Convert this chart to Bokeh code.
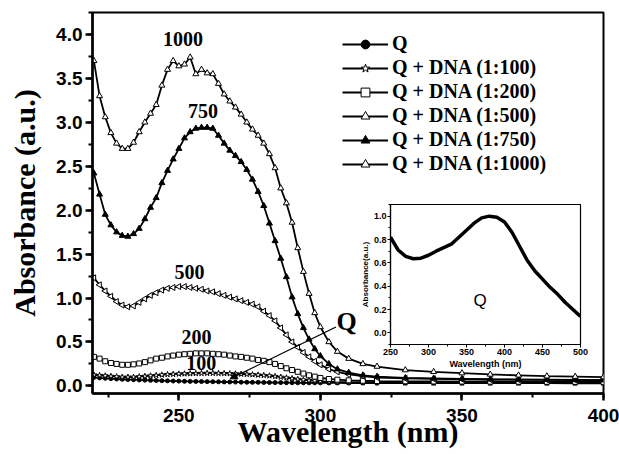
import numpy as np
from bokeh.plotting import figure
from bokeh.models import (Legend, LegendItem, Label, Arrow, NormalHead,
                          SingleIntervalTicker, PrintfTickFormatter, Range1d)
from bokeh.layouts import column
from bokeh.embed import file_html
from bokeh.resources import INLINE

# ---------------- data ----------------
wavelength = [220, 222, 224, 226, 228, 230, 232, 234, 236, 238,
              240, 242, 244, 246, 248, 250, 252, 254, 256, 258,
              260, 262, 264, 266, 268, 270, 272, 274, 276, 278,
              280, 282, 284, 286, 288, 290, 292, 294, 296, 298,
              300, 303, 306, 310, 315, 320, 330, 340, 350, 360,
              370, 380, 390, 400]

abs_q = [0.095, 0.09, 0.086, 0.082, 0.078, 0.075, 0.072, 0.07, 0.067, 0.065,
         0.063, 0.061, 0.059, 0.057, 0.055, 0.054, 0.052, 0.051, 0.05, 0.049,
         0.048, 0.047, 0.046, 0.045, 0.044, 0.043, 0.042, 0.041, 0.04, 0.04,
         0.039, 0.038, 0.037, 0.037, 0.036, 0.036, 0.035, 0.035, 0.034, 0.034,
         0.034, 0.033, 0.033, 0.032, 0.032, 0.031, 0.031, 0.03, 0.03, 0.03,
         0.03, 0.03, 0.029, 0.029]

abs_100 = [0.125, 0.12, 0.115, 0.11, 0.105, 0.10, 0.10, 0.10, 0.105, 0.11,
           0.115, 0.12, 0.125, 0.13, 0.133, 0.136, 0.138, 0.14, 0.142, 0.143,
           0.144, 0.144, 0.143, 0.142, 0.14, 0.138, 0.135, 0.132, 0.128, 0.124,
           0.12, 0.115, 0.108, 0.10, 0.092, 0.084, 0.076, 0.068, 0.062, 0.056,
           0.052, 0.047, 0.044, 0.041, 0.039, 0.038, 0.036, 0.035, 0.035, 0.034,
           0.034, 0.033, 0.033, 0.033]

abs_200 = [0.33, 0.31, 0.28, 0.26, 0.25, 0.24, 0.24, 0.245, 0.255, 0.27,
           0.29, 0.31, 0.32, 0.335, 0.345, 0.355, 0.36, 0.365, 0.37, 0.37,
           0.37, 0.365, 0.36, 0.355, 0.345, 0.335, 0.33, 0.32, 0.31, 0.295,
           0.285, 0.27, 0.25, 0.225, 0.20, 0.18, 0.16, 0.14, 0.12, 0.105,
           0.09, 0.078, 0.07, 0.063, 0.058, 0.055, 0.052, 0.05, 0.049, 0.048,
           0.047, 0.046, 0.045, 0.045]

abs_500 = [1.23, 1.15, 1.08, 1.02, 0.96, 0.92, 0.90, 0.91, 0.95, 0.99,
           1.03, 1.06, 1.09, 1.11, 1.12, 1.13, 1.13, 1.12, 1.11, 1.10,
           1.08, 1.07, 1.05, 1.03, 1.01, 0.99, 0.97, 0.95, 0.93, 0.90,
           0.85, 0.80, 0.74, 0.66, 0.58, 0.50, 0.44, 0.38, 0.33, 0.28,
           0.24, 0.19, 0.16, 0.13, 0.11, 0.095, 0.085, 0.08, 0.075, 0.072,
           0.07, 0.068, 0.066, 0.065]

abs_750 = [2.42, 2.18, 1.95, 1.83, 1.75, 1.71, 1.70, 1.73, 1.79, 1.90,
           2.03, 2.14, 2.31, 2.45, 2.58, 2.70, 2.82, 2.89, 2.93, 2.94,
           2.94, 2.93, 2.85, 2.76, 2.68, 2.62, 2.55, 2.46, 2.35, 2.21,
           2.05, 1.85, 1.65, 1.45, 1.24, 1.01, 0.82, 0.66, 0.53, 0.42,
           0.34, 0.25, 0.19, 0.15, 0.12, 0.105, 0.09, 0.085, 0.08, 0.075,
           0.072, 0.07, 0.068, 0.065]

abs_1000 = [3.70, 3.30, 3.06, 2.88, 2.76, 2.70, 2.70, 2.77, 2.89, 3.00,
            3.10, 3.20, 3.42, 3.60, 3.70, 3.64, 3.66, 3.74, 3.55, 3.60,
            3.56, 3.55, 3.44, 3.32, 3.24, 3.17, 3.09, 3.00, 2.92, 2.85,
            2.76, 2.64, 2.48, 2.25, 2.08, 1.86, 1.57, 1.30, 1.05, 0.83,
            0.67, 0.50, 0.39, 0.31, 0.25, 0.22, 0.18, 0.16, 0.145, 0.13,
            0.12, 0.11, 0.105, 0.10]

series_labels = ["Q", "Q + DNA (1:100)", "Q + DNA (1:200)", "Q + DNA (1:500)",
                 "Q + DNA (1:750)", "Q + DNA (1:1000)"]

inset_wavelength = [250, 260, 270, 280, 290, 300, 310, 320, 330, 340, 350, 360, 370,
                    380, 390, 400, 410, 420, 430, 440, 450, 460, 470, 480, 490, 500]
inset_abs = [0.82, 0.71, 0.655, 0.635, 0.64, 0.665, 0.70, 0.73, 0.76, 0.82, 0.88, 0.94, 0.985,
             1.0, 0.99, 0.95, 0.86, 0.74, 0.62, 0.53, 0.46, 0.39, 0.33, 0.26, 0.20, 0.14]

curve_tags = ["1000", "750", "500", "200", "100"]
curve_tag_pos = [(251.5, 3.95), (258.5, 3.13), (253.8, 1.30), (256.2, 0.56), (257.9, 0.255)]

# ---------------- main figure ----------------
SERIF = "Liberation Serif"
SANS = "Liberation Sans"

p = figure(width=619, height=454, output_backend="svg", toolbar_location=None,
           x_range=Range1d(219.5, 400), y_range=Range1d(-0.087, 4.25),
           min_border_left=92, min_border_right=16, min_border_top=12, min_border_bottom=61)
p.background_fill_color = "white"
p.border_fill_color = "white"
p.outline_line_color = "black"
p.outline_line_width = 2
p.grid.visible = False

for ax in (p.xaxis[0], p.yaxis[0]):
    ax.axis_line_width = 2.5
    ax.major_tick_line_width = 2.5
    ax.minor_tick_line_width = 2
    ax.major_tick_out = 7
    ax.major_tick_in = 0
    ax.minor_tick_out = 4
    ax.minor_tick_in = 0
    ax.major_label_text_font = SANS
    ax.major_label_text_font_style = "bold"
    ax.major_label_text_font_size = "19px"
    ax.major_label_text_color = "black"
    ax.axis_label_text_font = SERIF
    ax.axis_label_text_font_style = "bold"
    ax.axis_label_text_font_size = "30px"
    ax.axis_label_text_color = "black"

p.xaxis.ticker = SingleIntervalTicker(interval=50, num_minor_ticks=2)
p.yaxis.ticker = SingleIntervalTicker(interval=0.5, num_minor_ticks=2)
p.yaxis.formatter = PrintfTickFormatter(format="%.1f")
p.xaxis.axis_label = "Wavelength (nm)"
p.yaxis.axis_label = "Absorbance (a.u.)"
p.xaxis.major_label_standoff = 8
p.xaxis.axis_label_standoff = -10
p.yaxis.major_label_standoff = 3
p.yaxis.axis_label_standoff = 12

styles = [
    ("circle", "black", 0.0, 4),
    ("star", "white", 0.0, 6),
    ("square", "white", 0.0, 5),
    ("triangle", "white", np.pi / 2, 6),
    ("triangle", "black", 0.0, 6),
    ("triangle", "white", 0.0, 6),
]
all_series = [abs_q, abs_100, abs_200, abs_500, abs_750, abs_1000]

items = []
for label, ys, (marker, fill, ang, size) in zip(series_labels, all_series, styles):
    rl = p.line(wavelength, ys, line_color="black", line_width=1.8)
    rs = p.scatter(wavelength, ys, marker=marker, size=size, angle=ang,
                   line_color="black", fill_color=fill, line_width=1)
    items.append(LegendItem(label=label, renderers=[rl, rs]))

legend = Legend(items=items, location=(250, 218))
legend.label_text_font = SERIF
legend.label_text_font_style = "bold"
legend.label_text_font_size = "20px"
legend.label_text_color = "black"
legend.glyph_width = 46
legend.glyph_height = 22
legend.label_height = 22
legend.spacing = 1
legend.padding = 0
legend.margin = 0
legend.label_standoff = 4
legend.border_line_alpha = 0
legend.background_fill_alpha = 0
p.add_layout(legend)

for tag, (tx, ty) in zip(curve_tags, curve_tag_pos):
    p.add_layout(Label(x=tx, y=ty, text=tag, text_font=SERIF, text_font_style="bold",
                       text_font_size="20px", text_align="center", text_baseline="middle",
                       text_color="black"))

p.add_layout(Label(x=309.3, y=0.73, text="Q", text_font=SERIF, text_font_style="bold",
                   text_font_size="26px", text_align="center", text_baseline="middle",
                   text_color="black"))
p.add_layout(Arrow(x_start=305.5, y_start=0.67, x_end=268.1, y_end=0.08,
                   line_color="black", line_width=1.3,
                   end=NormalHead(size=7, fill_color="black", line_color="black")))

# ---------------- inset ----------------
q = figure(width=298, height=174, output_backend="svg", toolbar_location=None,
           x_range=Range1d(250, 500), y_range=Range1d(-0.1, 1.1),
           min_border_left=92, min_border_right=7, min_border_top=6, min_border_bottom=28)
q.background_fill_color = "white"
q.border_fill_alpha = 0
q.outline_line_color = "black"
q.outline_line_width = 1.2
q.grid.visible = False
for ax in (q.xaxis[0], q.yaxis[0]):
    ax.axis_line_width = 1.2
    ax.major_tick_out = 3
    ax.major_tick_in = 0
    ax.minor_tick_out = 2
    ax.minor_tick_in = 0
    ax.major_label_text_font = SANS
    ax.major_label_text_font_style = "bold"
    ax.major_label_text_font_size = "9px"
    ax.major_label_text_color = "black"
    ax.axis_label_text_font = SANS
    ax.axis_label_text_font_style = "bold"
    ax.axis_label_text_color = "black"
    ax.major_label_standoff = 1
    ax.axis_label_standoff = 1
q.xaxis.axis_label_text_font_size = "9px"
q.yaxis.axis_label_text_font_size = "8px"
q.xaxis.ticker = SingleIntervalTicker(interval=50, num_minor_ticks=2)
q.yaxis.ticker = SingleIntervalTicker(interval=0.2, num_minor_ticks=2)
q.yaxis.formatter = PrintfTickFormatter(format="%.1f")
q.xaxis.axis_label = "Wavelength (nm)"
q.yaxis.axis_label = "Absorbance(a.u.)"
q.line(inset_wavelength, inset_abs, line_color="black", line_width=3.5)
q.add_layout(Label(x=368, y=0.28, text="Q", text_font=SANS, text_font_size="17px",
                   text_align="center", text_baseline="middle", text_color="black"))
q.margin = (-256, 0, 0, 298)

layout = column(p, q, spacing=0)
open("out.html", "w").write(file_html(layout, INLINE))
